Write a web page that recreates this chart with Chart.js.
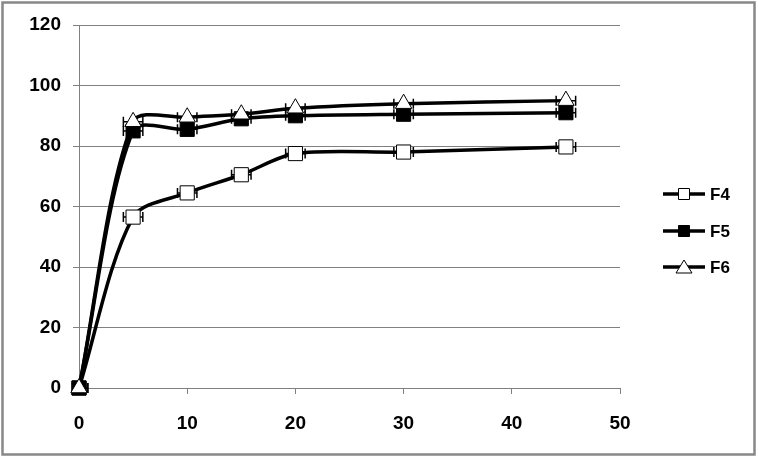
<!DOCTYPE html>
<html><head><meta charset="utf-8">
<script src="https://cdn.jsdelivr.net/npm/chart.js@4.4.0/dist/chart.umd.min.js"></script>
<style>html,body{margin:0;padding:0;background:#fff;}#wrap{width:758px;height:458px;position:relative;}</style>
</head><body><div id="wrap"><canvas id="c" width="758" height="458"></canvas></div>
<script>
const xValues = [0, 5, 10, 15, 20, 30, 45];
const f4 = [0, 56.5, 64.5, 70.5, 77.5, 78, 79.7];
const f5 = [0, 85, 85.5, 89, 90, 90.5, 91];
const f6 = [0, 88, 89.5, 90.5, 92.5, 94, 95];
const xErr = [0.8, 0.9, 0.9, 0.9, 0.9, 0.9, 0.9];
const seriesNames = ['F4', 'F5', 'F6'];
const yTicks = [0, 20, 40, 60, 80, 100, 120];
const xTicks = [0, 10, 20, 30, 40, 50];

const FAMILY = '"Liberation Sans", Arial, sans-serif';
const pts = arr => xValues.map((x, i) => ({x: x, y: arr[i]}));

const styles = [
  {pointStyle: 'rect', bg: '#fff', r: 10},
  {pointStyle: 'rect', bg: '#000', r: 10},
  {pointStyle: 'triangle', bg: '#fff', r: 9.5}
];
const seriesData = [f4, f5, f6];

const datasets = seriesData.map((d, i) => ({
  label: seriesNames[i],
  data: pts(d),
  borderColor: '#000',
  borderWidth: 3.5,
  tension: 0.3,
  pointStyle: styles[i].pointStyle,
  pointRadius: styles[i].r,
  pointBackgroundColor: styles[i].bg,
  pointBorderColor: '#000',
  pointBorderWidth: 1,
  clip: false,
  order: 3 - i
}));

const errorBars = {
  id: 'errorBars',
  beforeDatasetsDraw(chart) {
    const ctx = chart.ctx, xs = chart.scales.x, ys = chart.scales.y;
    ctx.save();
    ctx.strokeStyle = '#000';
    ctx.lineWidth = 1.5;
    seriesData.forEach(d => {
      xValues.forEach((x, i) => {
        const y = ys.getPixelForValue(d[i]);
        const x1 = xs.getPixelForValue(x - xErr[i]);
        const x2 = xs.getPixelForValue(x + xErr[i]);
        ctx.beginPath();
        ctx.moveTo(i === 0 ? xs.getPixelForValue(x) : x1, y); ctx.lineTo(x2, y);
        if (i !== 0) { ctx.moveTo(x1, y - 5); ctx.lineTo(x1, y + 5); }
        ctx.moveTo(x2, y - 5); ctx.lineTo(x2, y + 5);
        ctx.stroke();
      });
    });
    ctx.restore();
  }
};

const frameAndLegend = {
  id: 'frameAndLegend',
  afterDraw(chart) {
    const ctx = chart.ctx;
    ctx.save();
    ctx.strokeStyle = '#888';
    ctx.lineWidth = 2.5;
    ctx.strokeRect(2.5, 2.5, 752, 452);
    const ys = [194, 231, 267];
    seriesNames.forEach((name, i) => {
      const y = ys[i];
      ctx.strokeStyle = '#000';
      ctx.lineWidth = 3.5;
      ctx.beginPath(); ctx.moveTo(663, y); ctx.lineTo(705, y); ctx.stroke();
      ctx.lineWidth = 1;
      ctx.fillStyle = styles[i].bg;
      ctx.beginPath();
      if (styles[i].pointStyle === 'rect') {
        ctx.rect(678.5, y - 5.5, 11, 11);
      } else {
        ctx.moveTo(684, y - 7); ctx.lineTo(692, y + 6); ctx.lineTo(676, y + 6); ctx.closePath();
      }
      ctx.fill(); ctx.stroke();
      ctx.fillStyle = '#000';
      ctx.font = 'bold 17px ' + FAMILY;
      ctx.textAlign = 'left';
      ctx.textBaseline = 'middle';
      ctx.fillText(name, 710, y + 1);
    });
    ctx.restore();
  }
};

new Chart(document.getElementById('c'), {
  type: 'line',
  data: {datasets: datasets},
  options: {
    responsive: false,
    animation: false,
    events: [],
    layout: {padding: {left: 0, top: 25, right: 138, bottom: 0}},
    plugins: {legend: {display: false}, tooltip: {enabled: false}},
    scales: {
      x: {
        type: 'linear', min: 0, max: 50,
        afterBuildTicks: s => { s.ticks = xTicks.map(v => ({value: v})); },
        afterFit: s => { s.height = 70; },
        grid: {display: true, drawOnChartArea: false, color: '#808080', tickLength: 6, lineWidth: 1},
        border: {color: '#808080', width: 1},
        ticks: {color: '#000', font: {family: FAMILY, size: 19, weight: 'bold'}, padding: 18, maxRotation: 0}
      },
      y: {
        type: 'linear', min: 0, max: 120,
        afterBuildTicks: s => { s.ticks = yTicks.map(v => ({value: v})); },
        afterFit: s => { s.width = 79; },
        grid: {display: true, color: '#808080', tickLength: 6, lineWidth: 1},
        border: {color: '#808080', width: 1},
        ticks: {color: '#000', font: {family: FAMILY, size: 19, weight: 'bold'}, padding: 12}
      }
    }
  },
  plugins: [errorBars, frameAndLegend]
});
</script>
</body></html>
